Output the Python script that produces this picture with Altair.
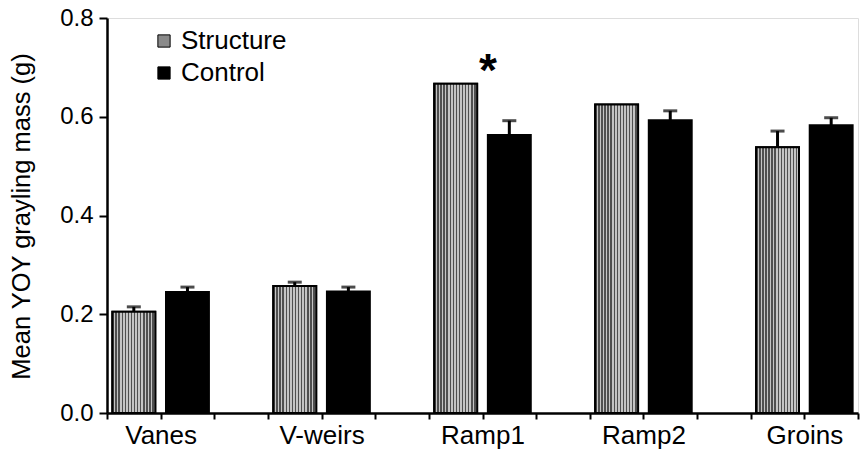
import altair as alt
import pandas as pd

# Mean YOY grayling mass by structure type
groups = ["Vanes", "V-weirs", "Ramp1", "Ramp2", "Groins"]
structure_mean = [0.205, 0.257, 0.667, 0.625, 0.538]
structure_se = [0.010, 0.008, 0.0, 0.0, 0.033]
control_mean = [0.245, 0.246, 0.563, 0.593, 0.583]
control_se = [0.010, 0.009, 0.029, 0.019, 0.015]
series = ["Structure", "Control"]

# group i sits at x = 3*i + 1 on a 0..14 axis; each bar spans 0.8 units
rows = []
for i, g in enumerate(groups):
    pos = 3 * i + 1
    for s, means, ses, lo in (("Structure", structure_mean, structure_se, -0.9),
                              ("Control", control_mean, control_se, 0.1)):
        m, e = means[i], ses[i]
        rows.append({"group": g, "series": s, "x0": pos + lo, "x1": pos + lo + 0.8,
                     "xc": pos + lo + 0.4, "mean": m, "se": e, "upper": m + e})
df = pd.DataFrame(rows)

label_map = "{" + ",".join(f"'{3 * i + 1}':'{g}'" for i, g in enumerate(groups)) + "}"
FONT = "Liberation Sans"

x_scale = alt.Scale(domain=[0, 14], nice=False, zero=False)
y_scale = alt.Scale(domain=[0, 0.8], nice=False)

x_axis = alt.Axis(values=list(range(15)), labelExpr=f"{label_map}[datum.value] || ''",
                  grid=False, title=None, tickSize=6, tickWidth=2, domainWidth=2.5,
                  labelFontSize=26, labelPadding=3, labelColor="black",
                  domainColor="black", tickColor="black", labelFont=FONT)
y_axis = alt.Axis(values=[0, 0.2, 0.4, 0.6, 0.8], format=".1f", grid=False,
                  title="Mean YOY grayling mass (g)", titleFontSize=25.5,
                  titleFontWeight="normal", titleFont=FONT, titleColor="black",
                  titleX=-86, titleY=198, titleAngle=270, titleAlign="center",
                  titleBaseline="middle",
                  tickSize=8, tickWidth=2, domainWidth=2.5, labelFontSize=24,
                  labelPadding=6, labelColor="black", domainColor="black",
                  tickColor="black", labelFont=FONT)

# fine vertical stripes give the structure bars their screened texture
stops = []
n_stripes = 14
for k in range(n_stripes):
    a, b, c = k / n_stripes, (k + 0.5) / n_stripes, (k + 1) / n_stripes
    stops += [{"offset": a, "color": "#4f4f4f"}, {"offset": b, "color": "#4f4f4f"},
              {"offset": b, "color": "#c4c4c4"}, {"offset": c, "color": "#c4c4c4"}]
texture = {"gradient": "linear", "x1": 0, "y1": 0, "x2": 1, "y2": 0, "stops": stops}

base = alt.Chart(df)

bars = base.mark_bar(stroke="black", strokeWidth=2).encode(
    x=alt.X("x0:Q", scale=x_scale, axis=x_axis),
    x2="x1:Q",
    y=alt.Y("mean:Q", scale=y_scale, axis=y_axis),
    y2=alt.datum(0),
    color=alt.Color("series:N",
                    scale=alt.Scale(domain=series, range=["#8a8a8a", "#000000"]),
                    legend=alt.Legend(title=None, orient="none", legendX=44, legendY=10,
                                      symbolType="square", symbolSize=150,
                                      symbolStrokeColor="black", symbolStrokeWidth=1,
                                      labelFontSize=26, labelFont=FONT, labelColor="black",
                                      labelOffset=4, rowPadding=6)),
)

textured = base.transform_filter("datum.series == 'Structure'").mark_bar(
    fill=texture, stroke="black", strokeWidth=2
).encode(
    x=alt.X("x0:Q", scale=x_scale),
    x2="x1:Q",
    y=alt.Y("mean:Q", scale=y_scale),
    y2=alt.datum(0),
)

err_df = base.transform_filter("datum.se > 0")

stems = err_df.mark_rule(color="black", strokeWidth=3).encode(
    x=alt.X("xc:Q", scale=x_scale),
    y=alt.Y("mean:Q", scale=y_scale),
    y2="upper:Q",
)

caps = err_df.mark_tick(color="black", thickness=3, size=14, orient="horizontal").encode(
    x=alt.X("xc:Q", scale=x_scale),
    y=alt.Y("upper:Q", scale=y_scale),
)

star_df = pd.DataFrame({"x": [7.1], "y": [0.70], "t": ["*"]})
star = alt.Chart(star_df).mark_text(fontSize=46, fontWeight="bold", font=FONT,
                                    color="black", baseline="middle", dy=5).encode(
    x=alt.X("x:Q", scale=x_scale),
    y=alt.Y("y:Q", scale=y_scale),
    text="t:N",
)

chart = alt.layer(bars, textured, stems, caps, star).properties(
    width=751, height=395,
    autosize=alt.AutoSizeParams(type="none"),
    padding={"left": 107, "top": 18, "right": 3, "bottom": 43},
).configure_view(stroke=None).configure(background="white")

chart.save("out.html", embed_options={"renderer": "svg", "actions": False})
